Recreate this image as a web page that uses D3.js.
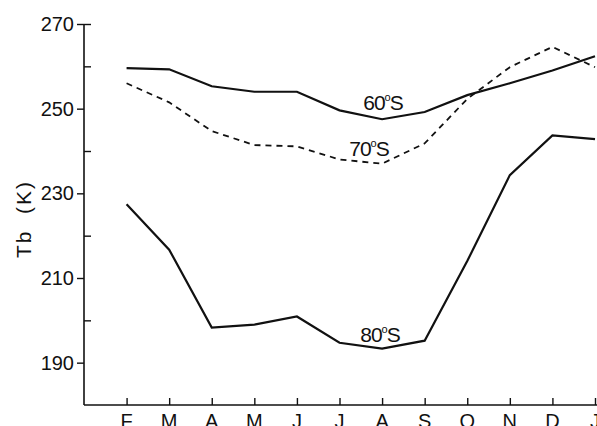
<!DOCTYPE html>
<html lang="en">
<head>
<meta charset="utf-8">
<title>Tb by month</title>
<script src="https://cdn.jsdelivr.net/npm/d3@7"></script>
<style>
  body { margin: 0; background: #fff; }
  text { font-family: "Liberation Sans", Arial, sans-serif; fill: #111; }
</style>
</head>
<body>
<div id="chart"></div>
<script>
// month labels, index 1..12 (axis starts at Jan = 0)
var months = ["F", "M", "A", "M", "J", "J", "A", "S", "O", "N", "D", "J"];
var s60 = [259.6, 259.3, 255.3, 254.0, 254.0, 249.6, 247.5, 249.2, 253.2, 256.0, 259.0, 262.4];
var s70 = [256.0, 251.5, 244.7, 241.4, 241.1, 238.0, 237.0, 241.8, 252.3, 259.8, 264.6, 259.8];
var s80 = [227.4, 216.7, 198.3, 199.0, 200.9, 194.7, 193.3, 195.2, 214.0, 234.3, 243.7, 242.8];
var majorTicks = [190, 210, 230, 250, 270];
var minorTicks = [200, 220, 240, 260];

var w = 597, h = 426;
var svg = d3.select("#chart").append("svg").attr("width", w).attr("height", h);

var x = d3.scaleLinear().domain([0, 12]).range([84, 595]);
var y = d3.scaleLinear().domain([180, 270]).range([405, 24]);

var ink = "#111";

// axes lines
svg.append("line").attr("x1", x(0)).attr("x2", x(0)).attr("y1", y(270)).attr("y2", y(180))
  .attr("stroke", ink).attr("stroke-width", 1.6);
svg.append("line").attr("x1", x(0)).attr("x2", w).attr("y1", y(180)).attr("y2", y(180))
  .attr("stroke", ink).attr("stroke-width", 1.6);

// y major ticks (outside) with labels
var yAxis = d3.axisLeft(y).tickValues(majorTicks).tickSize(7).tickPadding(3).tickFormat(d3.format("d"));
var ga = svg.append("g").attr("transform", "translate(" + x(0) + ",0)").call(yAxis);
ga.select(".domain").remove();
ga.selectAll("line").attr("stroke", ink).attr("stroke-width", 1.4);
ga.selectAll("text").attr("font-size", 20).style("font-family", "Liberation Sans, Arial, sans-serif").attr("fill", ink);

// y minor ticks (inside) + top tick
var gm = svg.append("g").attr("transform", "translate(" + x(0) + ",0)")
  .call(d3.axisRight(y).tickValues(minorTicks.concat([270])).tickSize(7).tickFormat(""));
gm.select(".domain").remove();
gm.selectAll("line").attr("stroke", ink).attr("stroke-width", 1.4);

// x ticks pointing up
var xi = d3.range(1, 13);
var gx = svg.append("g").attr("transform", "translate(0," + y(180) + ")")
  .call(d3.axisTop(x).tickValues(xi).tickSize(7).tickFormat(""));
gx.select(".domain").remove();
gx.selectAll("line").attr("stroke", ink).attr("stroke-width", 1.4);

svg.selectAll("text.mon").data(months).enter().append("text")
  .attr("class", "mon")
  .attr("x", function(d, i) { return x(i + 1); })
  .attr("y", 428)
  .attr("text-anchor", "middle")
  .attr("font-size", 20)
  .text(function(d) { return d; });

// y label
svg.append("text")
  .attr("transform", "translate(31,219) rotate(-90)")
  .attr("text-anchor", "middle")
  .attr("font-size", 21)
  .attr("letter-spacing", 2)
  .attr("xml:space", "preserve")
  .text("Tb  (K)");

// series
var line = d3.line().x(function(d, i) { return x(i + 1); }).y(function(d) { return y(d); });
svg.append("path").datum(s60).attr("d", line).attr("fill", "none").attr("stroke", ink).attr("stroke-width", 2.2);
svg.append("path").datum(s70).attr("d", line).attr("fill", "none").attr("stroke", ink)
  .attr("stroke-width", 1.8).attr("stroke-dasharray", "6,5");
svg.append("path").datum(s80).attr("d", line).attr("fill", "none").attr("stroke", ink).attr("stroke-width", 2.2);

// curve labels
function label(cx, by, num) {
  var t = svg.append("text").attr("x", cx).attr("y", by).attr("text-anchor", "middle")
    .attr("font-size", 21).attr("letter-spacing", -1);
  t.append("tspan").text(num);
  t.append("tspan").attr("font-size", 11).attr("dy", -9).text("o");
  t.append("tspan").attr("dy", 9).text("S");
}
label(383, 110, "60");
label(369, 156, "70");
label(380, 342, "80");
</script>
</body>
</html>
